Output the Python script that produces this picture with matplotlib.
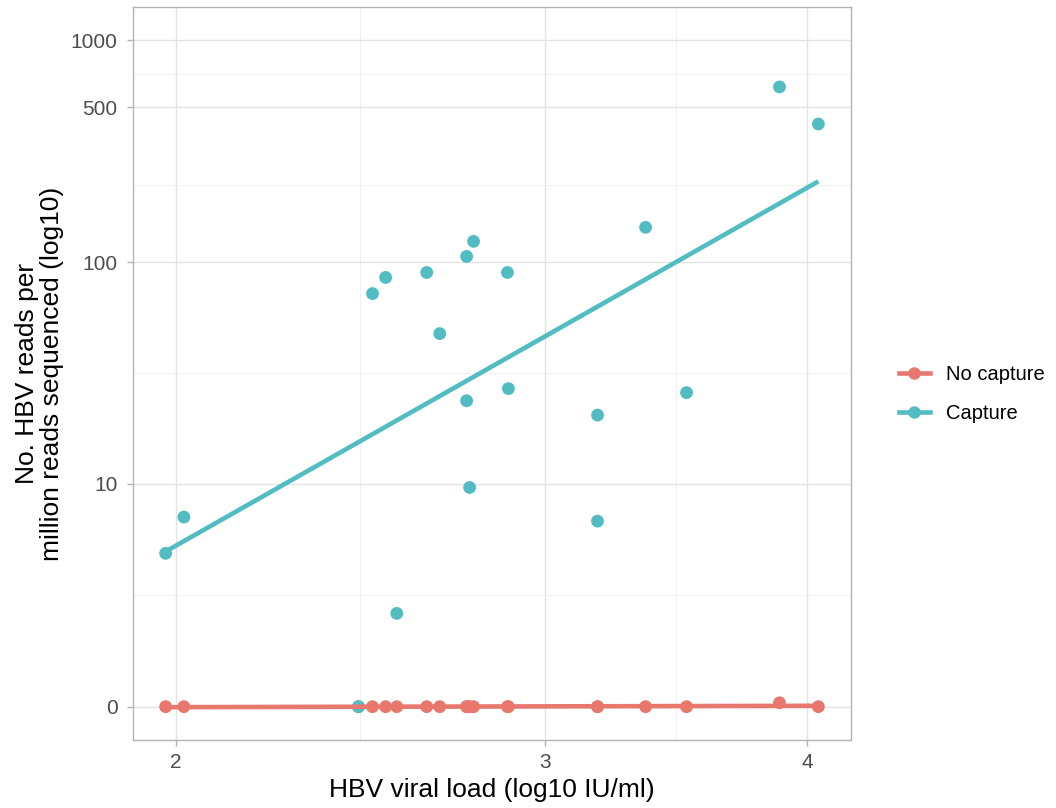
import matplotlib
matplotlib.use("Agg")
import matplotlib.pyplot as plt
from matplotlib.lines import Line2D
from matplotlib.ticker import FixedLocator, NullFormatter, FixedFormatter
import numpy as np

plt.rcParams["font.family"] = ["Liberation Sans", "DejaVu Sans"]

# viral load (log10 IU/ml), one entry per sample
viral_load = [1.978, 2.018, 2.444, 2.482, 2.518, 2.549, 2.634, 2.672, 2.752, 2.752,
              2.761, 2.773, 2.878, 2.881, 3.177, 3.177, 3.349, 3.503, 3.879, 4.048]
# HBV reads per million, with capture
capture = [4.7, 7.0, 0.0, 72.4, 85.6, 2.25, 90.1, 47.8, 106.4, 23.8,
           9.6, 124.4, 90.1, 27.0, 20.5, 6.7, 143.9, 25.9, 617.0, 420.0]
# HBV reads per million, no capture
no_capture = [0, 0, 0, 0, 0, 0, 0, 0, 0, 0,
              0, 0, 0, 0, 0, 0, 0, 0, 0.08, 0]

groups = ["No capture", "Capture"]
colors = {"No capture": "#E8776D", "Capture": "#52BCC3"}

y_breaks = [0, 10, 100, 500, 1000]
x_breaks = [2, 3, 4]


# ggplot-style pseudo_log (sigma=1, base=10)
def fwd(v):
    return np.arcsinh(np.asarray(v, dtype=float) / 2) / np.log(10)


def inv(t):
    return 2 * np.sinh(np.asarray(t, dtype=float) * np.log(10))


fig = plt.figure(figsize=(10.56, 8.08), dpi=100)
ax = fig.add_axes([133 / 1056, 68 / 808, 718 / 1056, 733 / 808])
ax.set_xscale("log")
ax.set_yscale("function", functions=(fwd, inv))

x = np.array(viral_load)
series = {"No capture": np.array(no_capture), "Capture": np.array(capture)}

# points first (ggplot draws geom_point before geom_smooth)
for z, g in enumerate(groups):
    ax.scatter(x, series[g], s=85, color=colors[g], edgecolors="none", zorder=3 + z)

# lm fit in the transformed space
lx = np.log10(x)
xs = np.linspace(lx.min(), lx.max(), 100)
for z, g in enumerate(groups):
    k, b = np.polyfit(lx, fwd(series[g]), 1)
    ax.plot(10 ** xs, inv(k * xs + b), color=colors[g], lw=3.3,
            solid_capstyle="butt", zorder=5 + z)

# limits with 5% expansion, y limits include 0..1000
xr = lx.max() - lx.min()
ax.set_xlim(10 ** (lx.min() - 0.05 * xr), 10 ** (lx.max() + 0.05 * xr))
ty = fwd([0, 1000])
yr = ty[1] - ty[0]
ax.set_ylim(inv(ty[0] - 0.05 * yr), inv(ty[1] + 0.05 * yr))

# ticks and grid
ax.xaxis.set_major_locator(FixedLocator(x_breaks))
ax.xaxis.set_major_formatter(FixedFormatter([str(v) for v in x_breaks]))
xm = [10 ** ((np.log10(a) + np.log10(b)) / 2) for a, b in zip(x_breaks[:-1], x_breaks[1:])]
ax.xaxis.set_minor_locator(FixedLocator(xm))
ax.xaxis.set_minor_formatter(NullFormatter())

ax.yaxis.set_major_locator(FixedLocator(y_breaks))
ax.yaxis.set_major_formatter(FixedFormatter([str(v) for v in y_breaks]))
tb = fwd(y_breaks)
ym = list(inv((tb[:-1] + tb[1:]) / 2))
ax.yaxis.set_minor_locator(FixedLocator(ym))
ax.yaxis.set_minor_formatter(NullFormatter())

ax.grid(which="major", color="#E3E3E3", lw=1.0)
ax.grid(which="minor", color="#EFEFEF", lw=0.6)
ax.set_axisbelow(True)
for s in ax.spines.values():
    s.set_color("#B3B3B3")
    s.set_linewidth(1.0)
ax.tick_params(which="major", length=4, width=1.0, color="#B3B3B3",
               labelsize=15, labelcolor="#4D4D4D", pad=5)
ax.tick_params(axis="y", which="major", pad=7)
ax.tick_params(which="minor", length=0)

ax.set_xlabel("HBV viral load (log10 IU/ml)", fontsize=19, labelpad=5)
ax.set_ylabel("No. HBV reads per\nmillion reads sequenced (log10)", fontsize=19,
              labelpad=5, linespacing=1.05)

handles = [Line2D([], [], color=colors[g], lw=3.3, marker="o", markersize=9,
                  markeredgewidth=0) for g in groups]
fig.legend(handles, groups, loc="center left", bbox_to_anchor=(0.834, 0.512),
           frameon=False, fontsize=14.5, handlelength=1.55, handletextpad=0.8,
           labelspacing=1.0)

fig.savefig("out.png", dpi=100)
